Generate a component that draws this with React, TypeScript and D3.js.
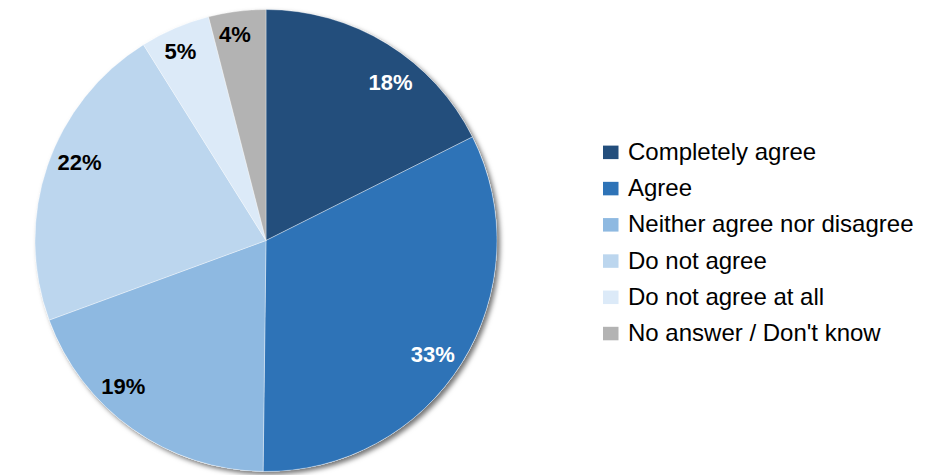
import React from "react";
import * as d3 from "d3";

const categories = [
  "Completely agree",
  "Agree",
  "Neither agree nor disagree",
  "Do not agree",
  "Do not agree at all",
  "No answer / Don't know",
];
const values = [17.6, 32.6, 19.2, 21.7, 4.9, 4.0];
const labels = ["18%", "33%", "19%", "22%", "5%", "4%"];
const colors = ["#234E7C", "#2E73B7", "#8EB9E1", "#BCD6EE", "#DCEAF8", "#B3B3B3"];
const labelColors = ["#FFFFFF", "#FFFFFF", "#000000", "#000000", "#000000", "#000000"];
// label placement tweaks (degrees of rotation from slice middle, radius fraction)
const labelNudgeDeg = [6.6, 2.4, 9.0, 3.8, -1.1, -1.4];
const labelRadiusFrac = [0.87, 0.875, 0.885, 0.875, 0.9, 0.9];

const W = 929;
const H = 475;
const cx = 266;
const cy = 240.5;
const R = 231;

export default function App() {
  const data = categories.map((c, i) => ({ c, v: values[i], i }));
  const pie = d3.pie<any>().value((d) => d.v).sort(null);
  const arcs = pie(data);
  const arc = d3.arc<any>().innerRadius(0).outerRadius(R);
  const legendY = d3.scaleLinear().domain([0, categories.length - 1]).range([152.3, 333.5]);

  return (
    <svg
      width={W}
      height={H}
      style={{ position: "absolute", left: 0, top: 0 }}
      fontFamily="'Liberation Sans', Arial, sans-serif"
    >
      <defs>
        <filter id="sh" x="-10%" y="-10%" width="125%" height="125%">
          <feDropShadow dx="3" dy="3" stdDeviation="2.5" floodColor="#000" floodOpacity="0.55" />
        </filter>
      </defs>
      <rect width={W} height={H} fill="#fff" />
      <g transform={`translate(${cx},${cy})`}>
        <circle r={R} fill="#fff" filter="url(#sh)" />
        {arcs.map((a, i) => (
          <path key={i} d={arc(a) as string} fill={colors[i]} stroke="#fff" strokeOpacity={0.35} strokeWidth={1} />
        ))}
        {arcs.map((a, i) => {
          const mid = (a.startAngle + a.endAngle) / 2 + (labelNudgeDeg[i] * Math.PI) / 180;
          const r = R * labelRadiusFrac[i];
          const x = r * Math.sin(mid);
          const y = -r * Math.cos(mid);
          return (
            <text
              key={i}
              x={x}
              y={y}
              textAnchor="middle"
              dominantBaseline="central"
              fontSize={22}
              fontWeight="bold"
              fill={labelColors[i]}
            >
              {labels[i]}
            </text>
          );
        })}
      </g>
      <g>
        {categories.map((c, i) => (
          <g key={i} transform={`translate(603,${legendY(i)})`}>
            <rect x={0} y={-6.7} width={15.5} height={13.5} fill={colors[i]} />
            <text x={25} y={7.5} fontSize={24} fill="#000">
              {c}
            </text>
          </g>
        ))}
      </g>
    </svg>
  );
}
